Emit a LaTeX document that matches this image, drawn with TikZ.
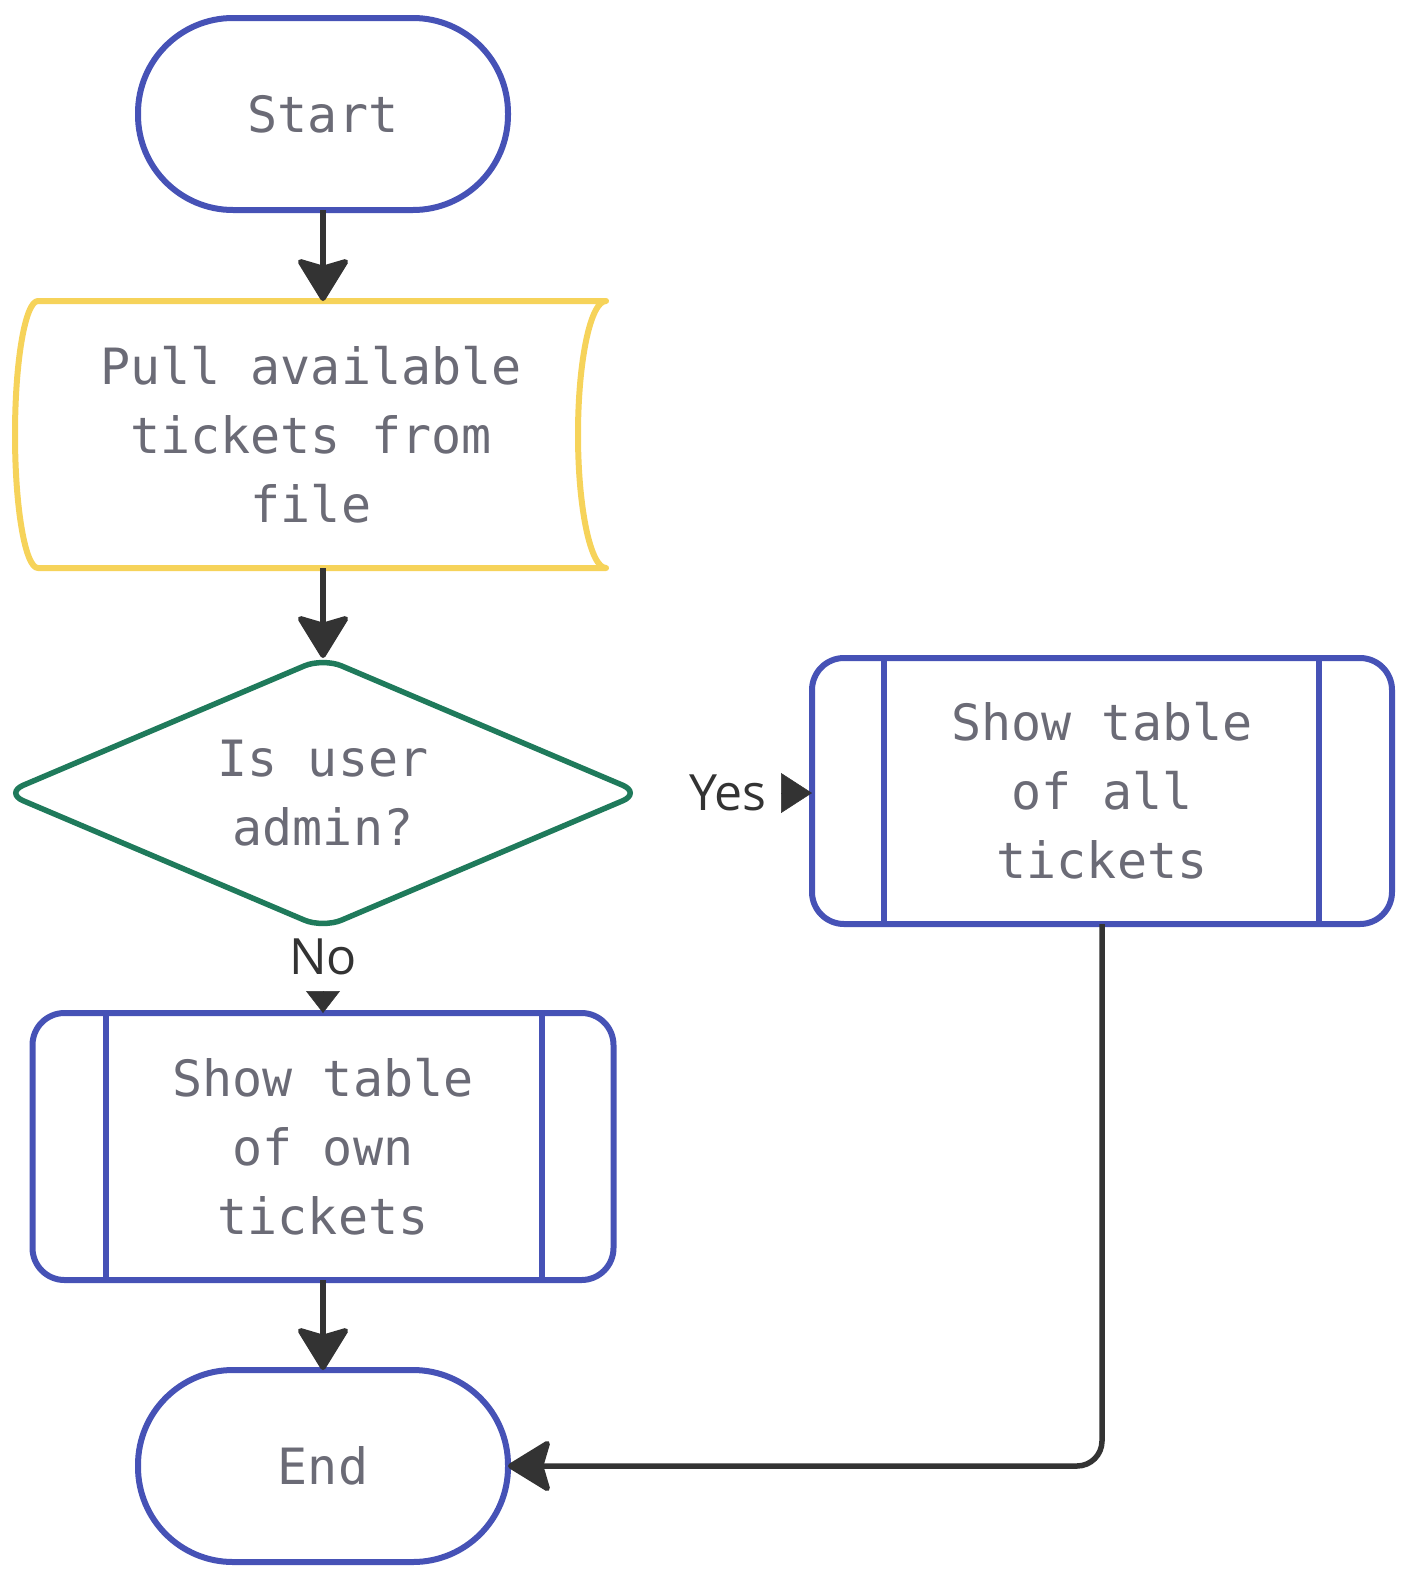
\documentclass[tikz,border=0pt]{standalone}
\usepackage{fontspec}
\setmonofont{DejaVu Sans Mono}
\newfontfamily\lblfont{Open Sans}
\usetikzlibrary{arrows.meta,calc}
\definecolor{mblue}{HTML}{4652B6}
\definecolor{myellow}{HTML}{F6D35A}
\definecolor{mgreen}{HTML}{1F7A5B}
\definecolor{mgray}{HTML}{6B6B76}
\definecolor{mdark}{HTML}{333333}
\begin{document}
\begin{tikzpicture}[x=1pt,y=1pt,
  txt/.style={font=\ttfamily\fontsize{50}{69}\selectfont, text=mgray, align=center, outer sep=0pt},
  term/.style={txt, draw=mblue, line width=6pt, rounded corners=95pt, minimum width=370pt, minimum height=192pt},
  subr/.style={txt, draw=mblue, line width=6pt, rounded corners=32pt, minimum width=580pt, minimum height=266pt},
  blueline/.style={draw=mblue, line width=6pt},
  lbl/.style={font=\lblfont\fontsize{50}{60}\selectfont, text=mdark, outer sep=0pt},
  arr/.style={draw=mdark, line width=5.5pt, -{Stealth[length=46pt,width=56pt,inset=8pt,round]}},
  smallarr/.style={draw=mdark, line width=0.5pt, -{Triangle[length=#1]}}
]
\useasboundingbox (0,0) rectangle (1419,-1585);

\node[term] (start) at (323,-114) {Start};

\node[txt, minimum width=591pt, minimum height=267pt] (data) at (311,-434.5) {Pull available\\tickets from\\file};
\draw[myellow, line width=6pt, line join=round]
  (38,-301) -- (606,-301)
  arc[start angle=90, end angle=270, x radius=28, y radius=133.5]
  -- (38,-568)
  arc[start angle=270, end angle=90, x radius=23, y radius=133.5]
  -- cycle;

\node[txt, minimum width=636pt, minimum height=270pt] (dec) at (323,-793) {Is user\\admin?};
\draw[mgreen, line width=5.5pt, rounded corners=20pt]
  ($(dec.west)!.5!(dec.north)$) -- (dec.north) -- (dec.east) -- (dec.south) -- (dec.west) -- cycle;

\node[subr] (rsub) at (1102,-791) {Show table\\of all\\tickets};
\draw[blueline] ($(rsub.north west)+(72,0)$) -- ($(rsub.south west)+(72,0)$);
\draw[blueline] ($(rsub.north east)+(-73,0)$) -- ($(rsub.south east)+(-73,0)$);

\node[subr, minimum width=581pt, minimum height=267pt] (lsub) at (323,-1146.5) {Show table\\of own\\tickets};
\draw[blueline] ($(lsub.north west)+(73,0)$) -- ($(lsub.south west)+(73,0)$);
\draw[blueline] ($(lsub.north east)+(-72,0)$) -- ($(lsub.south east)+(-72,0)$);

\node[term] (stop) at (323,-1466) {End};

\node[lbl, inner xsep=2pt, inner ysep=17pt] (no) at (323,-957) {No};
\node[lbl, inner xsep=15pt, inner ysep=2pt] (yes) at (728,-793) {Yes};

\draw[arr] (start) -- (start |- data.north);
\draw[arr] (start |- data.south) -- (dec.north);
\draw[smallarr={22pt, width=34pt}] (no) -- (no |- lsub.north);
\draw[smallarr={31pt, width=40pt}] (yes) -- (yes -| rsub.west);
\draw[arr] (lsub) -- (stop);
\draw[arr, rounded corners=25pt] (rsub.south) |- (stop.east);
\end{tikzpicture}
\end{document}
